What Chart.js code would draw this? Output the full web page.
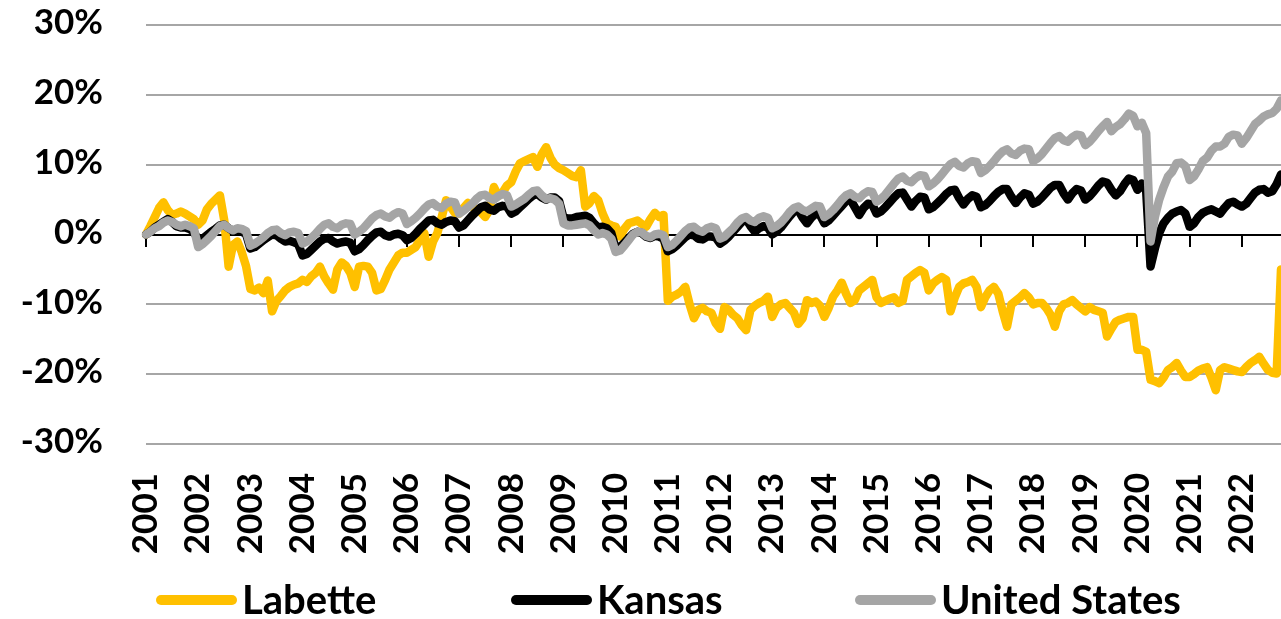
<!DOCTYPE html>
<html>
<head>
<meta charset="utf-8">
<title>Employment change since January 2001</title>
<script src="https://cdn.jsdelivr.net/npm/chart.js@4"></script>
<style>
  html, body { margin: 0; padding: 0; background: #ffffff; }
  canvas { display: block; }
</style>
</head>
<body>
<canvas id="chart" width="1281" height="619"></canvas>
<script>
// Year tick labels (one per January)
const yearLabels = ['2001','2002','2003','2004','2005','2006','2007','2008','2009','2010','2011',
                    '2012','2013','2014','2015','2016','2017','2018','2019','2020','2021','2022'];
// Months covered in the final year
const monthsInLastYear = 10;

// Cumulative change in employment since Jan 2001, percent, monthly (Jan 2001 - Oct 2022)
const labette = [
  0.0, 1.2, 2.5, 3.8, 4.6, 3.5, 2.8, 3.0, 3.3, 3.0, 2.6, 2.2,
  1.4, 2.0, 3.6, 4.4, 5.0, 5.6, 2.0, -4.6, -1.5, -1.0, -2.5, -4.5,
  -7.8, -8.0, -7.6, -8.4, -6.6, -11.0, -9.5, -8.8, -8.0, -7.5, -7.2, -7.0,
  -6.5, -6.8, -6.0, -5.5, -4.6, -6.0, -7.0, -7.9, -5.0, -4.0, -4.5, -5.5,
  -7.5, -4.6, -4.5, -4.6, -5.5, -8.0, -7.8, -6.5, -5.0, -4.0, -3.0, -2.6,
  -2.6, -2.2, -1.8, -0.8, 0.2, -3.2, -1.0, 0.2, 2.5, 4.9, 4.0, 3.1,
  3.0, 3.8, 4.5, 4.0, 3.6, 3.2, 2.5, 3.5, 6.8, 5.5, 6.0, 7.0,
  7.5, 9.0, 10.2, 10.5, 10.8, 11.1, 9.7, 11.5, 12.5, 11.0, 10.0, 9.5,
  9.2, 8.8, 8.4, 8.2, 9.2, 4.0, 4.5, 5.5, 4.9, 3.0, 1.6, 1.3,
  1.1, -0.3, 0.8, 1.6, 1.8, 2.0, 1.5, 1.1, 2.2, 3.1, 2.5, 2.8,
  -9.5, -8.9, -8.6, -8.2, -7.5, -10.0, -12.0, -10.8, -10.5, -11.0, -11.2, -12.7,
  -13.5, -10.4, -10.8, -11.5, -12.0, -13.0, -13.7, -10.8, -10.2, -9.8, -9.5, -8.9,
  -11.8, -10.5, -10.0, -9.8, -10.5, -11.2, -12.8, -12.0, -9.4, -9.8, -9.6, -10.2,
  -11.8, -10.5, -8.9, -8.0, -6.9, -8.5, -9.8, -9.4, -8.0, -7.5, -7.0, -6.5,
  -9.0, -9.8, -9.5, -9.2, -9.0, -9.8, -9.5, -6.5, -6.0, -5.5, -5.1, -5.5,
  -8.0, -7.0, -6.5, -6.1, -6.5, -11.0, -9.0, -7.5, -7.0, -6.8, -6.5, -7.5,
  -10.4, -9.0, -8.0, -7.5, -8.5, -11.0, -13.2, -10.0, -9.5, -9.0, -8.4, -9.0,
  -10.0, -9.8, -9.8, -10.5, -11.5, -13.2, -11.0, -10.0, -9.8, -9.4, -10.0, -10.5,
  -11.0, -10.4, -10.8, -11.0, -11.2, -14.6, -13.5, -12.5, -12.2, -12.0, -11.8, -11.8,
  -16.5, -16.5, -16.8, -20.8, -21.0, -21.3, -20.5, -19.4, -19.0, -18.4, -19.5, -20.4,
  -20.4, -20.0, -19.5, -19.2, -19.0, -20.5, -22.3, -19.4, -19.0, -19.2, -19.4, -19.6,
  -19.7, -19.0, -18.4, -18.0, -17.5, -18.5, -19.4, -19.8, -19.9, -5.0
];

const kansas = [
  0.0, 0.4, 1.0, 1.4, 1.8, 2.2, 1.8, 1.2, 1.0, 1.0, 0.8, 0.4,
  -0.8, -0.6, -0.1, 0.4, 0.8, 1.3, 1.4, 0.9, 0.5, 0.6, 0.4, 0.1,
  -2.0, -1.8, -1.3, -0.8, -0.4, 0.0, -0.1, -0.6, -1.0, -0.9, -1.1, -1.4,
  -3.0, -2.8, -2.2, -1.6, -1.0, -0.6, -0.5, -1.0, -1.3, -1.1, -1.0, -1.2,
  -2.4, -2.1, -1.5, -0.8, -0.2, 0.3, 0.4, -0.1, -0.3, 0.0, 0.1, -0.1,
  -0.8, -0.5, 0.1, 0.8, 1.4, 2.0, 2.1, 1.6, 1.4, 1.8, 2.0, 1.9,
  1.0, 1.3, 2.0, 2.7, 3.3, 3.9, 4.1, 3.6, 3.4, 3.9, 4.1, 4.0,
  3.0, 3.3, 3.9, 4.5, 5.1, 5.6, 5.8, 5.3, 5.0, 5.3, 5.3, 4.8,
  2.4, 2.3, 2.3, 2.5, 2.6, 2.7, 2.4, 1.6, 1.0, 1.1, 0.9, 0.2,
  -2.0, -1.8, -1.2, -0.5, 0.1, 0.4, 0.2, -0.3, -0.5, -0.2, -0.3, -0.6,
  -2.4, -2.1, -1.6, -1.0, -0.4, 0.0, -0.1, -0.6, -0.7, -0.3, -0.3, -0.4,
  -1.3, -0.9, -0.3, 0.4, 1.1, 1.8, 2.2, 1.2, 0.4, 0.9, 1.2, 1.0,
  0.0, 0.4, 1.0, 1.8, 2.6, 3.3, 3.5, 2.4, 1.6, 2.4, 3.0, 2.8,
  1.6, 2.0, 2.7, 3.4, 4.1, 4.8, 5.0, 3.9, 2.8, 3.8, 4.4, 4.3,
  3.0, 3.3, 3.9, 4.6, 5.3, 5.9, 6.0, 5.0, 4.0, 4.8, 5.4, 5.3,
  3.6, 3.9, 4.5, 5.1, 5.8, 6.3, 6.4, 5.2, 4.3, 5.1, 5.6, 5.4,
  3.9, 4.2, 4.8, 5.5, 6.1, 6.5, 6.5, 5.4, 4.5, 5.3, 5.9, 5.7,
  4.4, 4.7, 5.3, 6.0, 6.7, 7.1, 7.1, 5.9, 5.0, 5.9, 6.5, 6.3,
  5.0, 5.5, 6.2, 7.0, 7.6, 7.4, 6.4, 5.6, 6.2, 7.2, 8.0, 7.8,
  6.4, 7.3, 6.2, -4.6, -2.0, 0.2, 1.6, 2.4, 3.0, 3.3, 3.5, 3.0,
  1.1, 1.6, 2.5, 3.1, 3.4, 3.6, 3.3, 3.0, 3.8, 4.5, 4.7, 4.3,
  4.0, 4.4, 5.2, 6.0, 6.4, 6.5, 6.0, 6.2, 7.2, 8.6
];

const unitedStates = [
  0.0, 0.4, 0.9, 1.2, 1.7, 2.0, 1.8, 1.4, 1.2, 1.4, 1.2, 0.9,
  -1.8, -1.4, -0.8, -0.2, 0.5, 1.2, 1.4, 0.9, 0.6, 0.9, 0.8, 0.5,
  -1.6, -1.3, -0.9, -0.4, 0.2, 0.6, 0.7, 0.2, -0.1, 0.3, 0.4, 0.2,
  -1.3, -1.0, -0.5, 0.1, 0.8, 1.4, 1.6, 1.1, 0.9, 1.4, 1.6, 1.5,
  0.0, 0.4, 0.9, 1.6, 2.3, 2.8, 3.0, 2.6, 2.4, 2.9, 3.2, 3.0,
  1.5, 1.9, 2.4, 3.0, 3.7, 4.3, 4.5, 4.0, 3.8, 4.4, 4.7, 4.6,
  3.0, 3.4, 3.9, 4.4, 5.1, 5.6, 5.7, 5.2, 5.0, 5.5, 5.8, 5.6,
  4.0, 4.3, 4.7, 5.1, 5.7, 6.2, 6.3, 5.6, 5.1, 5.2, 5.0, 4.4,
  1.6, 1.3, 1.3, 1.4, 1.5, 1.6, 1.3, 0.6, 0.0, 0.2, 0.0, -0.6,
  -2.5, -2.3, -1.6, -0.8, 0.0, 0.4, 0.3, -0.2, -0.4, 0.0, 0.1, -0.1,
  -1.8, -1.5, -0.9, -0.2, 0.5, 1.0, 1.1, 0.6, 0.4, 0.9, 1.1, 0.9,
  -0.6, -0.3, 0.3, 0.9, 1.7, 2.3, 2.5, 2.0, 1.8, 2.4, 2.6, 2.4,
  0.9, 1.2, 1.7, 2.4, 3.2, 3.8, 4.0, 3.5, 3.3, 3.7, 4.1, 4.0,
  2.5, 2.9, 3.5, 4.2, 5.0, 5.6, 5.9, 5.4, 5.2, 5.8, 6.2, 6.1,
  4.7, 5.1, 5.7, 6.5, 7.3, 8.0, 8.3, 7.7, 7.5, 8.1, 8.5, 8.4,
  6.9, 7.3, 7.9, 8.6, 9.4, 10.1, 10.4, 9.8, 9.6, 10.2, 10.5, 10.4,
  8.8, 9.2, 9.8, 10.5, 11.3, 11.9, 12.2, 11.6, 11.4, 12.0, 12.3, 12.2,
  10.5, 10.9, 11.5, 12.3, 13.1, 13.8, 14.1, 13.5, 13.3, 13.9, 14.3, 14.2,
  12.8, 13.3, 14.0, 14.8, 15.5, 16.1, 14.8, 15.4, 15.8, 16.5, 17.3, 17.0,
  15.5, 16.0, 14.5, -1.0, 2.5, 5.0, 6.8, 8.3, 9.0, 10.2, 10.3, 9.8,
  7.8, 8.3, 9.3, 10.5, 11.0, 12.0, 12.6, 12.6, 13.0, 14.0, 14.3, 14.2,
  13.0, 13.8, 14.8, 15.8, 16.3, 16.9, 17.2, 17.4, 18.0, 19.2
];

// One category per month, e.g. "2001-01"
const monthLabels = [];
yearLabels.forEach((y, yi) => {
  const n = yi === yearLabels.length - 1 ? monthsInLastYear : 12;
  for (let m = 1; m <= n; m++) monthLabels.push(y + '-' + String(m).padStart(2, '0'));
});

const FONT = 'Lato, "Open Sans", "DejaVu Sans", sans-serif';

// Legend drawn below the axis labels: thick line sample followed by the series name
const bottomLegend = {
  id: 'bottomLegend',
  afterDraw(chart, args, opts) {
    const ctx = chart.ctx;
    ctx.save();
    ctx.font = `bold ${opts.fontSize}px ${FONT}`;
    ctx.textBaseline = 'middle';
    ctx.textAlign = 'left';
    chart.data.datasets.forEach((ds, i) => {
      const x0 = opts.starts[i];
      const y = opts.y;
      ctx.beginPath();
      ctx.lineCap = 'round';
      ctx.lineWidth = opts.lineWidth;
      ctx.strokeStyle = ds.borderColor;
      ctx.moveTo(x0 + opts.lineWidth / 2, y);
      ctx.lineTo(x0 + opts.sampleLength - opts.lineWidth / 2, y);
      ctx.stroke();
      ctx.fillStyle = '#000000';
      ctx.fillText(ds.label, x0 + opts.sampleLength + opts.gap, y + 1);
    });
    ctx.restore();
  }
};

const lineStyle = {
  borderWidth: 8.5,
  pointRadius: 0,
  pointHoverRadius: 0,
  tension: 0,
  fill: false,
  borderJoinStyle: 'round',
  borderCapStyle: 'round'
};

new Chart(document.getElementById('chart'), {
  type: 'line',
  data: {
    labels: monthLabels,
    datasets: [
      Object.assign({ label: 'Labette', data: labette, borderColor: '#FFC000', order: 2 }, lineStyle),
      Object.assign({ label: 'Kansas', data: kansas, borderColor: '#000000', order: 1 }, lineStyle),
      Object.assign({ label: 'United States', data: unitedStates, borderColor: '#A5A5A5', order: 0 }, lineStyle)
    ]
  },
  options: {
    responsive: false,
    animation: false,
    devicePixelRatio: 1,
    layout: { padding: { top: 25, right: 0, bottom: 0, left: 0 } },
    plugins: {
      legend: { display: false },
      tooltip: { enabled: false },
      bottomLegend: {
        starts: [156, 511, 855],
        y: 600,
        sampleLength: 81,
        lineWidth: 10,
        gap: 5,
        fontSize: 40
      }
    },
    scales: {
      x: {
        type: 'category',
        position: 'bottom',
        grid: { display: false, drawTicks: false },
        border: { display: false },
        ticks: {
          autoSkip: false,
          minRotation: 90,
          maxRotation: 90,
          padding: 29,
          color: '#000000',
          font: { family: FONT, size: 35, weight: 'bold' },
          callback: (value, index) => index % 12 === 0 ? yearLabels[index / 12] : ''
        },
        afterFit(scale) {
          scale.height = 175;
          scale.paddingLeft = 0;
          scale.paddingRight = 0;
        }
      },
      // Horizontal axis line at 0% with tick marks at each January
      xZero: {
        type: 'category',
        position: { y: 0 },
        ticks: { display: false },
        grid: {
          drawOnChartArea: false,
          drawTicks: true,
          tickLength: 11,
          lineWidth: 2,
          color: (c) => (c.index % 12 === 0 ? '#000000' : 'rgba(0,0,0,0)')
        },
        border: { display: true, color: '#000000', width: 2 },
        afterFit(scale) {
          scale.paddingLeft = 0;
          scale.paddingRight = 0;
        }
      },
      y: {
        min: -30,
        max: 30,
        grid: { color: '#A6A6A6', lineWidth: 2, drawTicks: false },
        border: { display: false },
        ticks: {
          stepSize: 10,
          padding: 43,
          labelOffset: -2,
          color: '#000000',
          font: { family: FONT, size: 35, weight: 'bold' },
          callback: (v) => v + '%'
        },
        afterFit(scale) {
          scale.width = 146;
          scale.paddingTop = 0;
          scale.paddingBottom = 0;
        }
      }
    }
  },
  plugins: [bottomLegend]
});
</script>
</body>
</html>
